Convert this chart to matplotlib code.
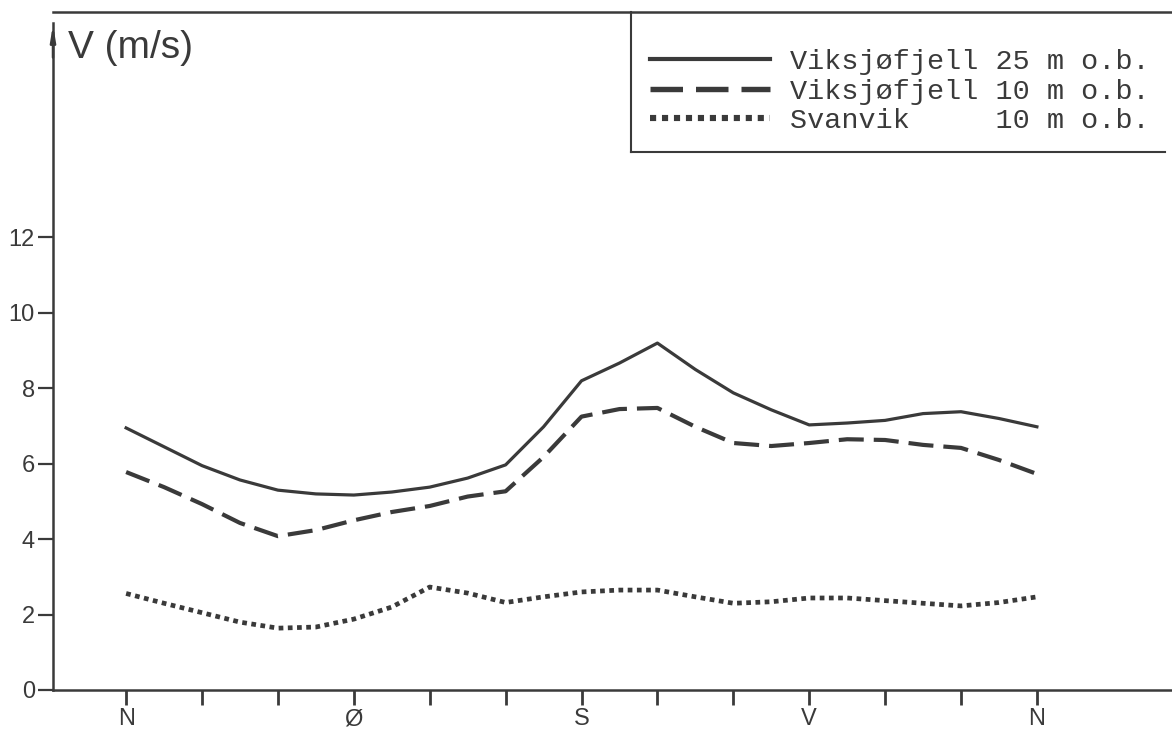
import matplotlib.pyplot as plt
from matplotlib.lines import Line2D

# Vindretning (grader, avlest hvert 15. grad) og middel vindhastighet (m/s)
retning = [0, 15, 30, 45, 60, 75, 90, 105, 120, 135, 150, 165, 180,
           195, 210, 225, 240, 255, 270, 285, 300, 315, 330, 345, 360]
viksjo_25 = [6.95, 6.45, 5.95, 5.57, 5.3, 5.2, 5.17, 5.25, 5.38, 5.62, 5.97, 6.98, 8.2,
             8.67, 9.2, 8.5, 7.88, 7.43, 7.03, 7.08, 7.15, 7.33, 7.38, 7.2, 6.98]
viksjo_10 = [5.78, 5.38, 4.93, 4.43, 4.08, 4.24, 4.5, 4.72, 4.88, 5.13, 5.27, 6.18, 7.25,
             7.45, 7.48, 6.98, 6.55, 6.47, 6.55, 6.65, 6.63, 6.5, 6.42, 6.1, 5.73]
svanvik_10 = [2.56, 2.3, 2.05, 1.8, 1.64, 1.67, 1.88, 2.2, 2.73, 2.57, 2.32, 2.47, 2.6,
              2.65, 2.65, 2.47, 2.3, 2.34, 2.44, 2.44, 2.37, 2.3, 2.23, 2.32, 2.47]

hoved_ticks = [0, 90, 180, 270, 360]
hoved_labels = ['N', 'Ø', 'S', 'V', 'N']
del_ticks = [0, 30, 60, 90, 120, 150, 180, 210, 240, 270, 300, 330, 360]
y_ticks = [0, 2, 4, 6, 8, 10, 12]

ink = '#3a3a3a'
W, H = 1172, 731

fig = plt.figure(figsize=(W / 100, H / 100), dpi=100)
ax = fig.add_axes([53 / W, (H - 690) / H, (W - 53) / W, (690 - 12) / H])
ax.set_xlim(-28.9, 413.4)
ax.set_ylim(0, 17.98)

ax.plot(retning, viksjo_25, color=ink, lw=2.3, solid_joinstyle='round',
        label='Viksjøfjell 25 m o.b.')
ax.plot(retning, viksjo_10, color=ink, lw=3.0, dashes=(6.0, 2.4),
        label='Viksjøfjell 10 m o.b.')
ax.plot(retning, svanvik_10, color=ink, lw=3.4, dashes=(1.0, 0.95),
        label='Svanvik     10 m o.b.')

# akser
ax.spines['right'].set_visible(False)
for side in ['left', 'bottom', 'top']:
    ax.spines[side].set_color(ink)
    ax.spines[side].set_linewidth(1.8)
ax.spines['left'].set_bounds(0, 17.7)
ax.annotate('', xy=(0, 17.72), xytext=(0, 16.7),
            xycoords=('axes fraction', 'data'),
            arrowprops=dict(arrowstyle='-|>,head_length=0.9,head_width=0.15',
                            color=ink, lw=1.8))

ax.set_xticks(hoved_ticks)
ax.set_xticklabels(hoved_labels)
ax.set_xticks(del_ticks, minor=True)
ax.set_yticks(y_ticks)
ax.tick_params(axis='x', which='both', direction='out', length=11, width=2,
               color=ink, labelsize=17, labelcolor=ink, pad=2)
ax.tick_params(axis='y', direction='out', length=11, width=1.6,
               color=ink, labelsize=17, labelcolor=ink, pad=2)
for lab in ax.get_xticklabels() + ax.get_yticklabels():
    lab.set_fontfamily('Liberation Sans')

fig.text(68 / W, 1 - 58 / H, 'V (m/s)', fontsize=28, color=ink,
         family='Liberation Sans', va='baseline', ha='left')

# tegnforklaring med ramme kun til venstre og under
leg = ax.legend(loc='upper left', bbox_to_anchor=(650 / W, 1 - 49 / H),
                bbox_transform=fig.transFigure, frameon=False,
                prop={'family': 'Liberation Mono', 'size': 20.5},
                handlelength=4.2, handletextpad=0.7, labelspacing=0.13,
                borderaxespad=0, borderpad=0)
for t in leg.get_texts():
    t.set_color(ink)
for h in leg.get_lines():
    h.set_linewidth(h.get_linewidth() * 1.3)
fig.add_artist(Line2D([631 / W, 631 / W], [1 - 12 / H, 1 - 152 / H],
                      transform=fig.transFigure, color=ink, lw=1.5))
fig.add_artist(Line2D([631 / W, 1165 / W], [1 - 152 / H, 1 - 152 / H],
                      transform=fig.transFigure, color=ink, lw=1.5))

fig.savefig('out.png', dpi=100)
